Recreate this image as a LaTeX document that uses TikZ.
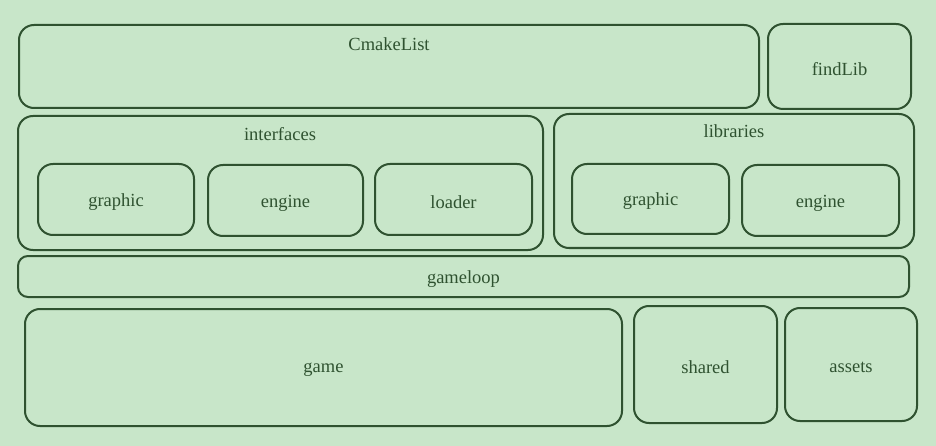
\documentclass[tikz,border=0pt]{standalone}
\usepackage{fontspec}
\setmainfont{Liberation Serif}
\definecolor{bg}{HTML}{C8E6C9}
\definecolor{ink}{HTML}{2F5230}
\begin{document}
\begin{tikzpicture}[x=1pt,y=-1pt,
  box/.style={draw=ink,line width=2pt,rounded corners=15pt,inner sep=0pt},
  lbl/.style={text=ink,font=\fontsize{18.5}{20}\selectfont,inner sep=0pt,yshift=-2.5pt}]
\fill[bg] (0,0) rectangle (936,446);
\useasboundingbox (0,0) rectangle (936,446);
% top row
\node[box,minimum width=740pt,minimum height=83pt] (cmake) at (389,66.5) {};
\node[lbl] (cmakel) at (389,42) {CmakeList};
\node[box,minimum width=143pt,minimum height=85pt] (find) at (839.5,66.5) {};
\node[lbl] at (find.center) {findLib};
% interfaces
\node[box,minimum width=525pt,minimum height=134pt] (intf) at (280.5,183) {};
\node[lbl] (intfl) at (280,132) {interfaces};
\node[box,minimum width=156pt,minimum height=71pt] (ig) at (116,199.5) {};
\node[lbl] at (ig.center) {graphic};
\node[box,minimum width=155pt,minimum height=71pt] (ie) at (285.5,200.5) {};
\node[lbl] at (ie.center) {engine};
\node[box,minimum width=157pt,minimum height=71pt] (il) at (453.5,199.5) {};
\node[lbl] at (il.center) {loader};
% libraries
\node[box,minimum width=360pt,minimum height=134pt] (libs) at (734,181) {};
\node[lbl] (libsl) at (734,129) {libraries};
\node[box,minimum width=157pt,minimum height=70pt] (lg) at (650.5,199) {};
\node[lbl] at (lg.center) {graphic};
\node[box,minimum width=157pt,minimum height=71pt] (le) at (820.5,200.5) {};
\node[lbl] at (le.center) {engine};
% gameloop
\node[box,rounded corners=10pt,minimum width=891pt,minimum height=41pt] (loop) at (463.5,276.5) {};
\node[lbl] at (loop.center) {gameloop};
% bottom row
\node[box,minimum width=597pt,minimum height=117pt] (game) at (323.5,367.5) {};
\node[lbl] at (game.center) {game};
\node[box,minimum width=143pt,minimum height=117pt] (shared) at (705.5,364.5) {};
\node[lbl] at (shared.center) {shared};
\node[box,minimum width=132pt,minimum height=113pt] (assets) at (851,364.5) {};
\node[lbl] at (assets.center) {assets};
\end{tikzpicture}
\end{document}
